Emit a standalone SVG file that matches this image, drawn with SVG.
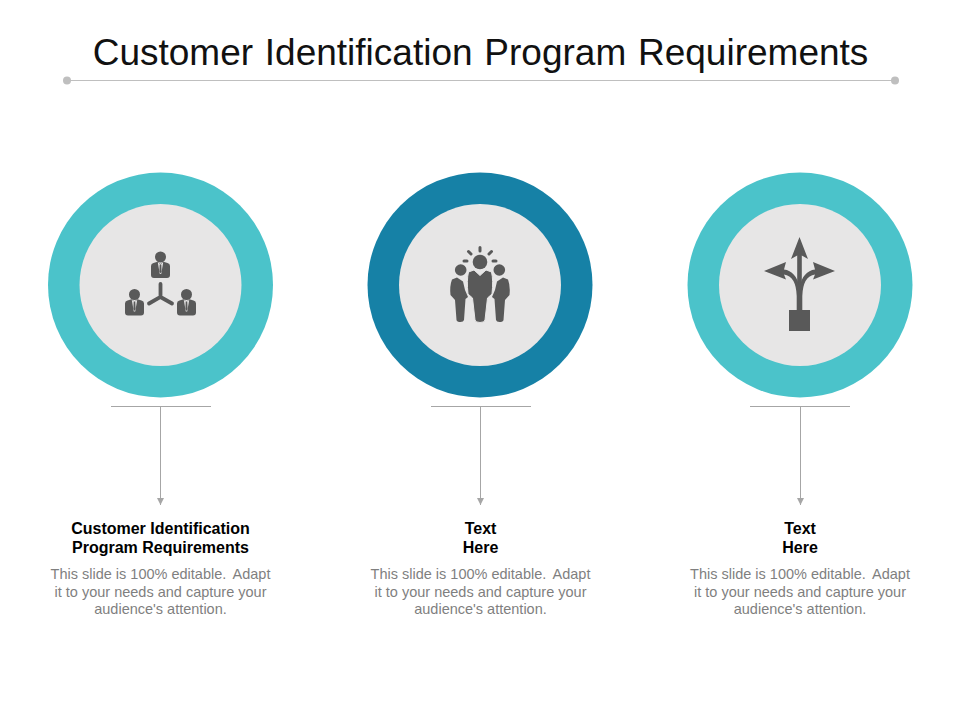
<svg xmlns="http://www.w3.org/2000/svg" width="960" height="720" viewBox="0 0 960 720">
<style>
text{font-family:"Liberation Sans",Arial,sans-serif;text-anchor:middle}
.t{font-size:37px;fill:#111}
.h{font-size:16px;font-weight:bold;fill:#000}
.b{font-size:14.5px;fill:#7f7f7f}
.in{fill:#e7e6e6}
.ic{fill:#595959}
.st{fill:none;stroke:#595959;stroke-linecap:round}
.c{fill:none;stroke:#a6a6a6;stroke-width:1}
.r{fill:none;stroke:#bfbfbf;stroke-width:1}
</style>
<defs>
<marker id="ah" markerUnits="userSpaceOnUse" markerWidth="8" markerHeight="8" refX="7" refY="4" orient="auto"><path d="M0 0.500L7 4L0 7.500Z" fill="#a6a6a6"/></marker>
<g id="man"><circle cx="0" cy="-11" r="5.500" class="ic"/><path class="ic" d="M-9.500 -2Q-9.500 -4.500 -7 -5L-3 -6.300L0 -4L3 -6.300L7 -5Q9.500 -4.500 9.500 -2L9.500 7Q9.500 10 6.500 10L-6.500 10Q-9.500 10 -9.500 7Z"/><path d="M-1.700 -5L0 -3.600L1.700 -5L2.700 -5.500L0.700 6L-0.700 6L-2.700 -5.500Z" fill="#e7e6e6"/><path class="ic" d="M-0.800 -3.600L0.800 -3.600L1.100 3.500L0 5.500L-1.100 3.500Z"/></g>
</defs>
<g id="title"><text class="t" x="480.500" y="65" word-spacing="1.500">Customer Identification Program Requirements</text></g>
<g id="rule"><line class="r" x1="67" y1="80.500" x2="895" y2="80.500"/><circle cx="67" cy="80.500" r="4" fill="#bfbfbf"/><circle cx="895" cy="80.500" r="4" fill="#bfbfbf"/></g>
<g id="connectors">
<line class="c" x1="111" y1="406.500" x2="211" y2="406.500"/><line class="c" x1="160.500" y1="406.500" x2="160.500" y2="505" marker-end="url(#ah)"/>
<line class="c" x1="431" y1="406.500" x2="531" y2="406.500"/><line class="c" x1="480.500" y1="406.500" x2="480.500" y2="505" marker-end="url(#ah)"/>
<line class="c" x1="750" y1="406.500" x2="850" y2="406.500"/><line class="c" x1="800.500" y1="406.500" x2="800.500" y2="505" marker-end="url(#ah)"/>
</g>
<g id="node1">
<circle cx="160.500" cy="285" r="112.500" fill="#4bc3ca"/><circle cx="160.500" cy="285" r="81" class="in"/>
<use href="#man" x="160.500" y="268"/><use href="#man" x="134.500" y="305.500"/><use href="#man" x="186.500" y="305.500"/>
<path class="st" stroke-width="3.800" d="M160.500 284V297L149 303.500M160.500 297L172 303.500"/>
<text class="h" x="160.500" y="533.600">Customer Identification</text><text class="h" x="160.500" y="552.600">Program Requirements</text>
<text class="b" x="160.500" y="579">This slide is 100% editable. <tspan dx="3">Adapt</tspan></text><text class="b" x="160.500" y="596.500">it to your needs and capture your</text><text class="b" x="160.500" y="614">audience's attention.</text>
</g>
<g id="node2">
<circle cx="480" cy="285" r="112.500" fill="#1681a6"/><circle cx="480" cy="285" r="81" class="in"/>
<circle cx="480" cy="262" r="7.300" class="ic"/><circle cx="460.700" cy="270" r="5.800" class="ic"/><circle cx="499.300" cy="270" r="5.800" class="ic"/>
<path class="st" stroke-width="3" d="M480 247.500V251M468.500 251.500L471 254M491.500 251.500L489 254M464 261H467M493 261H496"/>
<path class="ic" d="M452 279.500L457 277.500L463 281.500L465 290L468 297L465.500 299L464 320Q463.500 322 460.500 322Q457 322 456.500 320L455 300L450.500 295Q449.500 286 452 279.500Z"/>
<path class="ic" d="M508 279.500L503 277.500L497 281.500L495 290L492 297L494.500 299L496 320Q496.500 322 499.500 322Q503 322 503.500 320L505 300L509.500 295Q510.500 286 508 279.500Z"/>
<path class="ic" stroke="#e7e6e6" stroke-width="1" d="M468.500 272L474 270L480 275.500L486 270L491.500 272Q493.500 280 492 294L487.500 298L485 320Q484.500 322.500 480 322.500Q475.500 322.500 475 320L472.500 298L468 294Q466.500 280 468.500 272Z"/>
<text class="h" x="480.500" y="533.600">Text</text><text class="h" x="480.500" y="552.600">Here</text>
<text class="b" x="480.500" y="579">This slide is 100% editable. <tspan dx="3">Adapt</tspan></text><text class="b" x="480.500" y="596.500">it to your needs and capture your</text><text class="b" x="480.500" y="614">audience's attention.</text>
</g>
<g id="node3">
<circle cx="800" cy="285" r="112.500" fill="#4bc3ca"/><circle cx="800" cy="285" r="81" class="in"/>
<rect x="789" y="310" width="21" height="21" class="ic"/>
<path class="ic" d="M799.500 237L808 259L801.800 255.500V311H797.200V255.500L791 259Z"/>
<path class="ic" d="M764 271L786 262L784 269.500Q796 271 799.500 287Q803 271 815 269.500L813 262L835 271L813 279.500L815 274.500Q803 276 802.300 296V311H796.700V296Q796 276 784 274.500L786 279.500Z"/>
<text class="h" x="800" y="533.600">Text</text><text class="h" x="800" y="552.600">Here</text>
<text class="b" x="800" y="579">This slide is 100% editable. <tspan dx="3">Adapt</tspan></text><text class="b" x="800" y="596.500">it to your needs and capture your</text><text class="b" x="800" y="614">audience's attention.</text>
</g>
</svg>
